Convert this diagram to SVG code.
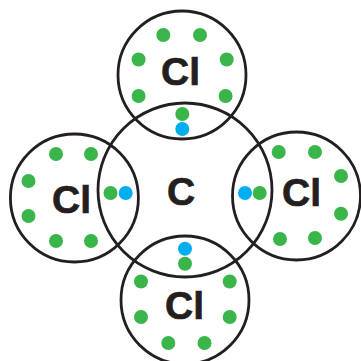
<svg xmlns="http://www.w3.org/2000/svg" width="361" height="361" viewBox="0 0 361 361">
<style>
.a{fill:none;stroke:#231f20;stroke-width:2.8}
.g{fill:#39b54a}
.b{fill:#00aeef}
text{font-family:"Liberation Sans",Arial,sans-serif;font-weight:700;font-size:39px;fill:#231f20;stroke:#231f20;stroke-width:.7;text-anchor:middle}
</style>
<rect width="361" height="361" fill="#fff"/>
<g id="connectors"/>
<g id="cl-top">
<circle class="a" cx="182" cy="75" r="64"/>
<text x="180.5" y="85">Cl</text>
<circle class="g" cx="163.3" cy="35" r="7"/><circle class="g" cx="200" cy="35" r="7"/><circle class="g" cx="138.6" cy="59.5" r="7"/><circle class="g" cx="226.7" cy="59.5" r="7"/><circle class="g" cx="138.6" cy="96" r="7"/><circle class="g" cx="225.6" cy="96" r="7"/>
</g>
<g id="cl-left">
<circle class="a" cx="74.4" cy="198" r="64"/>
<text x="71.5" y="213">Cl</text>
<circle class="g" cx="56" cy="154" r="7"/><circle class="g" cx="91" cy="154" r="7"/><circle class="g" cx="28.5" cy="181" r="7"/><circle class="g" cx="28.5" cy="216" r="7"/><circle class="g" cx="56" cy="241" r="7"/><circle class="g" cx="91" cy="241" r="7"/>
</g>
<g id="cl-right">
<circle class="a" cx="296.5" cy="196" r="64"/>
<text x="301.5" y="206">Cl</text>
<circle class="g" cx="278.7" cy="152" r="7"/><circle class="g" cx="315" cy="152" r="7"/><circle class="g" cx="341" cy="176" r="7"/><circle class="g" cx="341" cy="213.7" r="7"/><circle class="g" cx="280" cy="239" r="7"/><circle class="g" cx="315" cy="238" r="7"/>
</g>
<g id="cl-bottom">
<circle class="a" cx="185" cy="300" r="64"/>
<text x="184.5" y="319">Cl</text>
<circle class="g" cx="141" cy="281.5" r="7"/><circle class="g" cx="229.7" cy="281.5" r="7"/><circle class="g" cx="141" cy="317" r="7"/><circle class="g" cx="229.7" cy="317" r="7"/><circle class="g" cx="168.3" cy="343" r="7"/><circle class="g" cx="204.5" cy="343" r="7"/>
</g>
<g id="c-center">
<circle class="a" cx="185" cy="190" r="87"/>
<text x="181" y="205">C</text>
<circle class="g" cx="182.3" cy="114" r="7"/><circle class="b" cx="182.3" cy="129" r="7"/>
<circle class="g" cx="110.5" cy="193" r="7"/><circle class="b" cx="125.7" cy="193" r="7"/>
<circle class="b" cx="245" cy="193" r="7"/><circle class="g" cx="259.7" cy="193" r="7"/>
<circle class="b" cx="185" cy="248.7" r="7"/><circle class="g" cx="185" cy="263.7" r="7"/>
</g>
</svg>
